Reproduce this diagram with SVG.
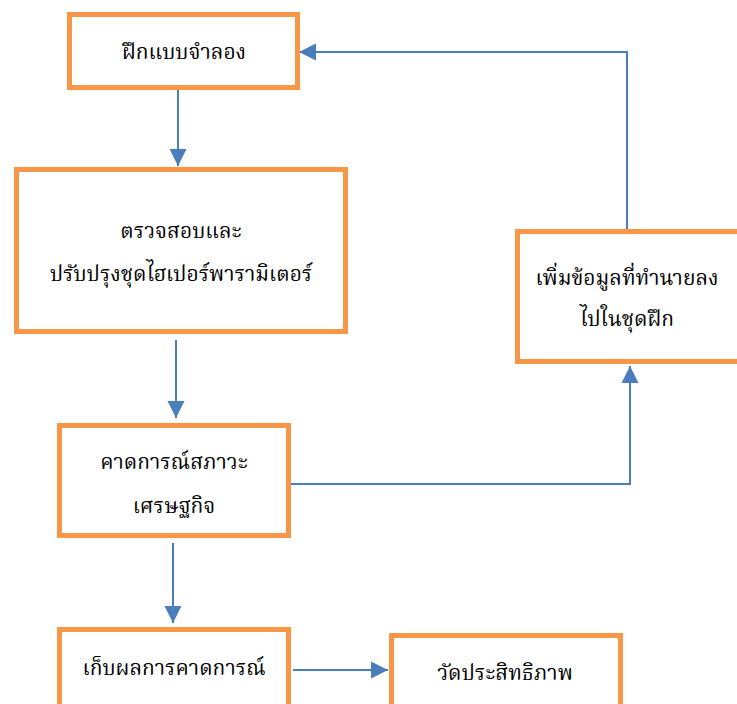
<svg xmlns="http://www.w3.org/2000/svg" width="737" height="704" viewBox="0 0 737 704">
<style>
.box{fill:#fff;stroke:#F79646;stroke-width:5}
.t{font-family:"Norasi","Kinnari","Laksaman","TH Sarabun New","Noto Serif Thai","Noto Sans Thai","DejaVu Sans",serif;font-size:21px;fill:#000;text-anchor:middle}
.c{fill:none;stroke:#4A7EBB;stroke-width:2}
</style>
<defs>
<marker id="ah" markerWidth="18" markerHeight="18" refX="17" refY="8.5" orient="auto" markerUnits="userSpaceOnUse" viewBox="0 0 18 17">
<path d="M0,0L17,8.5L0,17z" fill="#4A7EBB"/>
</marker>
</defs>
<g id="connectors">
<path class="c" d="M178,88V166" marker-end="url(#ah)"/>
<path class="c" d="M176,340V418" marker-end="url(#ah)"/>
<path class="c" d="M173,543V623" marker-end="url(#ah)"/>
<path class="c" d="M293,670H388" marker-end="url(#ah)"/>
<path class="c" d="M290,484H630V366" marker-end="url(#ah)"/>
<path class="c" d="M627,231V52H299" marker-end="url(#ah)"/>
</g>
<g id="n1"><rect class="box" x="69.5" y="14.5" width="228" height="73"/><text class="t" x="184" y="59">ฝึกแบบจำลอง</text></g>
<g id="n2"><rect class="box" x="16.5" y="169.5" width="329" height="162"/><text class="t" x="181" y="238">ตรวจสอบและ</text><text class="t" x="181" y="281">ปรับปรุงชุดไฮเปอร์พารามิเตอร์</text></g>
<g id="n3"><rect class="box" x="517.5" y="231.5" width="240" height="130"/><text class="t" x="627" y="285">เพิ่มข้อมูลที่ทำนายลง</text><text class="t" x="627" y="326">ไปในชุดฝึก</text></g>
<g id="n4"><rect class="box" x="59.5" y="425.5" width="229" height="110"/><text class="t" x="174" y="469">คาดการณ์สภาวะ</text><text class="t" x="174" y="513">เศรษฐกิจ</text></g>
<g id="n5"><rect class="box" x="59.5" y="629.5" width="229" height="90"/><text class="t" x="174" y="675">เก็บผลการคาดการณ์</text></g>
<g id="n6"><rect class="box" x="391.5" y="635.5" width="229" height="90"/><text class="t" x="505" y="680">วัดประสิทธิภาพ</text></g>
</svg>
